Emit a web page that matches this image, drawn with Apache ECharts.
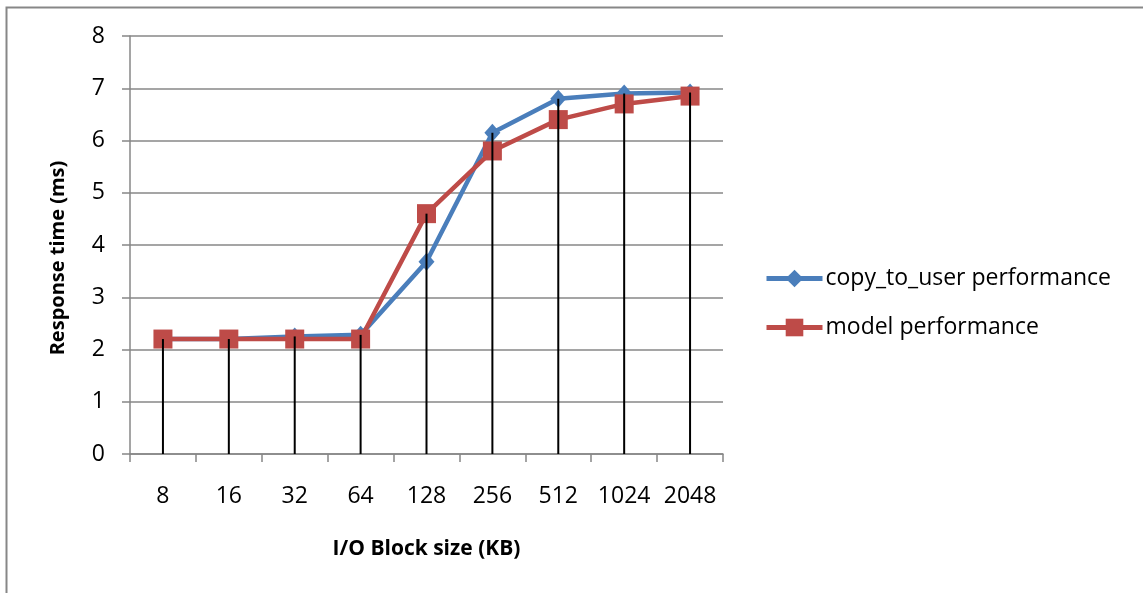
<!DOCTYPE html>
<html>
<head>
<meta charset="utf-8">
<script src="https://cdn.jsdelivr.net/npm/echarts@6/dist/echarts.min.js"></script>
<style>
  html, body { margin: 0; padding: 0; background: #fff; }
  #chart { width: 1143px; height: 593px; }
</style>
</head>
<body>
<div id="chart"></div>
<script>
// I/O block sizes (KB)
const blockSizes = ['8', '16', '32', '64', '128', '256', '512', '1024', '2048'];
// Response time (ms)
const copyToUser = [2.2, 2.2, 2.25, 2.28, 3.68, 6.15, 6.8, 6.9, 6.92];
const modelPerf = [2.2, 2.2, 2.2, 2.2, 4.6, 5.8, 6.4, 6.7, 6.85];
const yTicks = [0, 1, 2, 3, 4, 5, 6, 7, 8];

// drop lines reach the higher of the two series at each block size
const dropTop = copyToUser.map((v, i) => Math.max(v, modelPerf[i]));

const FONT = '"Open Sans", "Noto Sans", sans-serif';
const chart = echarts.init(document.getElementById('chart'), null, { renderer: 'canvas' });

chart.setOption({
  backgroundColor: '#fff',
  animation: false,
  textStyle: { fontFamily: FONT, color: '#000' },
  graphic: [{
    type: 'rect',
    shape: { x: 6.5, y: 7.5, width: 1300, height: 700 },
    style: { fill: 'none', stroke: '#878787', lineWidth: 2 },
    silent: true
  }],
  grid: { left: 130, right: 420, top: 36, bottom: 139 },
  legend: {
    orient: 'vertical',
    left: 764,
    top: 267,
    padding: 0,
    itemWidth: 56,
    itemHeight: 22,
    itemGap: 26,
    data: ['copy_to_user performance', 'model performance'],
    lineStyle: { width: 5 },
    textStyle: { fontFamily: FONT, fontSize: 23, color: '#000', padding: [0, 0, 0, -2] }
  },
  xAxis: {
    type: 'category',
    data: blockSizes,
    boundaryGap: true,
    name: 'I/O Block size (KB)',
    nameLocation: 'middle',
    nameGap: 85,
    nameTextStyle: { fontFamily: FONT, fontSize: 21, fontWeight: 'bold', color: '#000' },
    axisLine: { lineStyle: { color: '#878787', width: 1.5 } },
    axisTick: { show: true, length: 8, interval: 0, lineStyle: { color: '#878787', width: 1.5 } },
    axisLabel: { interval: 0, hideOverlap: false, fontSize: 23, color: '#000', margin: 31, fontFamily: FONT },
    splitLine: { show: false }
  },
  yAxis: {
    type: 'value',
    min: yTicks[0],
    max: yTicks[yTicks.length - 1],
    interval: 1,
    name: 'Response time (ms)',
    nameLocation: 'middle',
    nameGap: 62,
    nameRotate: 90,
    nameTextStyle: { fontFamily: FONT, fontSize: 20, fontWeight: 'bold', color: '#000', padding: [0, 26, 0, 0] },
    axisLine: { show: true, lineStyle: { color: '#878787', width: 1.5 } },
    axisTick: { show: true, length: 8, lineStyle: { color: '#878787', width: 1.5 } },
    axisLabel: { fontSize: 23, color: '#000', margin: 25, fontFamily: FONT },
    splitLine: { show: true, lineStyle: { color: '#878787', width: 1.5 } }
  },
  series: [
    {
      name: 'copy_to_user performance',
      type: 'line',
      data: copyToUser,
      symbol: 'diamond',
      symbolSize: [16, 18],
      lineStyle: { color: '#4A7EBB', width: 4.5 },
      itemStyle: { color: '#4A7EBB' },
      z: 3
    },
    {
      name: 'model performance',
      type: 'line',
      data: modelPerf,
      symbol: 'rect',
      symbolSize: 19,
      lineStyle: { color: '#BE4B48', width: 4.5 },
      itemStyle: { color: '#BE4B48' },
      z: 4
    },
    {
      name: 'drop',
      type: 'bar',
      data: dropTop,
      barWidth: 2,
      itemStyle: { color: '#000' },
      z: 5,
      silent: true
    }
  ]
});
</script>
</body>
</html>
